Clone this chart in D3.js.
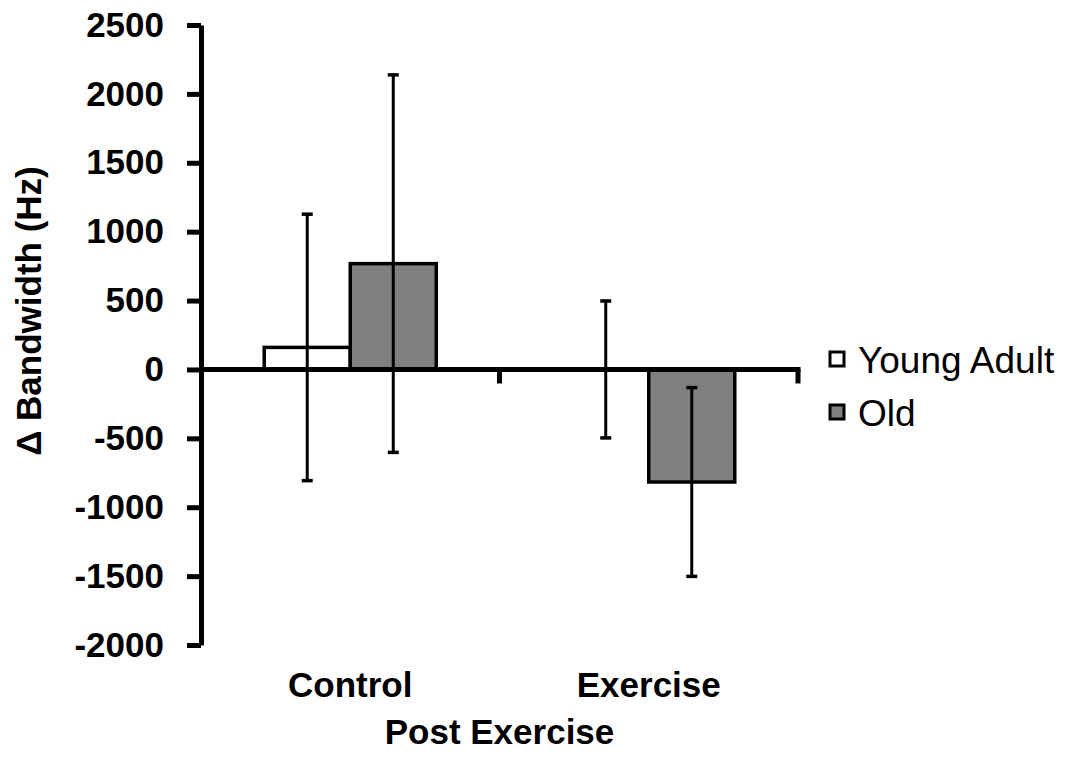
<!DOCTYPE html>
<html>
<head>
<meta charset="utf-8">
<script src="https://cdn.jsdelivr.net/npm/d3@7/dist/d3.min.js"></script>
<style>
  body { margin: 0; background: #fff; }
  svg { display: block; font-family: "Liberation Sans", Arial, sans-serif; }
</style>
</head>
<body>
<svg id="chart" width="1072" height="759"></svg>
<script>
// Data
const CATEGORIES = ['Control', 'Exercise'];
const SERIES = ['Young Adult', 'Old'];
const MEANS = {
  'Young Adult': [160, 0],
  'Old': [768, -817],
};
const ERRORS = {
  'Young Adult': [967, 497],
  'Old': [1370, 685],
};
const Y_TICKS = [-2000, -1500, -1000, -500, 0, 500, 1000, 1500, 2000, 2500];
const FILLS = ['#ffffff', '#808080'];

// Layout
const LEFT = 201;
const RIGHT = 798;
const TOP = 25;
const BOTTOM = 645;

const rows = [];
CATEGORIES.forEach((cat, i) => {
  SERIES.forEach((s) => {
    rows.push({ cat, series: s, value: MEANS[s][i], err: ERRORS[s][i] });
  });
});

const svg = d3.select('#chart');

// Scales
const y = d3.scaleLinear([-2000, 2500], [BOTTOM, TOP]);
const x = d3.scaleBand(CATEGORIES, [LEFT, RIGHT]).padding(0);
const xs = d3.scaleBand(SERIES, [0, x.bandwidth()])
  .paddingInner(0)
  .paddingOuter(0.735);
const color = d3.scaleOrdinal(SERIES, FILLS);

// Bars
svg.append('g')
  .selectAll('rect')
  .data(rows)
  .join('rect')
  .attr('x', (d) => x(d.cat) + xs(d.series))
  .attr('y', (d) => Math.min(y(d.value), y(0)))
  .attr('width', xs.bandwidth())
  .attr('height', (d) => Math.abs(y(d.value) - y(0)))
  .attr('fill', (d) => color(d.series))
  .attr('stroke', '#000')
  .attr('stroke-width', 3.5);

// Error bars
const eb = svg.append('g')
  .selectAll('g')
  .data(rows)
  .join('g')
  .attr('transform', (d) => `translate(${x(d.cat) + xs(d.series) + xs.bandwidth() / 2},0)`);

eb.append('line')
  .attr('y1', (d) => y(d.value + d.err))
  .attr('y2', (d) => y(d.value - d.err))
  .attr('stroke', '#000')
  .attr('stroke-width', 3);

eb.selectAll('line.cap')
  .data((d) => [d.value + d.err, d.value - d.err])
  .join('line')
  .attr('class', 'cap')
  .attr('x1', -5.5)
  .attr('x2', 5.5)
  .attr('y1', (v) => y(v))
  .attr('y2', (v) => y(v))
  .attr('stroke', '#000')
  .attr('stroke-width', 3.5);

// X axis at zero with boundary ticks
const xAxis = svg.append('g').attr('transform', `translate(0,${y(0)})`);
xAxis.append('line')
  .attr('x1', LEFT)
  .attr('x2', RIGHT + 2.5)
  .attr('stroke', '#000')
  .attr('stroke-width', 5);
xAxis.selectAll('line.tick')
  .data(CATEGORIES)
  .join('line')
  .attr('class', 'tick')
  .attr('x1', (d) => x(d) + x.bandwidth())
  .attr('x2', (d) => x(d) + x.bandwidth())
  .attr('y1', 0)
  .attr('y2', 14)
  .attr('stroke', '#000')
  .attr('stroke-width', 5);

// Y axis
const yAxis = d3.axisLeft(y)
  .tickValues(Y_TICKS)
  .tickFormat((d) => String(d))
  .tickSize(14)
  .tickSizeOuter(0)
  .tickPadding(23);

svg.append('g')
  .attr('transform', `translate(${LEFT},0)`)
  .call(yAxis)
  .call((g) => g.select('.domain').attr('stroke-width', 5))
  .call((g) => g.selectAll('.tick line').attr('stroke-width', 5))
  .call((g) => g.selectAll('.tick text')
    .attr('font-size', 35)
    .attr('font-weight', 'bold')
    .attr('font-family', '"Liberation Sans", Arial, sans-serif')
    .attr('fill', '#000'));

// Category labels
svg.append('g')
  .selectAll('text')
  .data(CATEGORIES)
  .join('text')
  .attr('x', (d) => x(d) + x.bandwidth() / 2)
  .attr('y', 697)
  .attr('text-anchor', 'middle')
  .attr('font-size', 35)
  .attr('font-weight', 'bold')
  .text((d) => d);

// Axis titles
svg.append('text')
  .attr('x', (LEFT + RIGHT) / 2)
  .attr('y', 744)
  .attr('text-anchor', 'middle')
  .attr('font-size', 35)
  .attr('font-weight', 'bold')
  .text('Post Exercise');

svg.append('text')
  .attr('transform', `translate(41,${311}) rotate(-90)`)
  .attr('text-anchor', 'middle')
  .attr('font-size', 35)
  .attr('font-weight', 'bold')
  .text('Δ Bandwidth (Hz)');

// Legend
const legend = svg.append('g')
  .selectAll('g')
  .data(SERIES)
  .join('g')
  .attr('transform', (d, i) => `translate(830,${352 + i * 53})`);

legend.append('rect')
  .attr('width', 14)
  .attr('height', 14)
  .attr('fill', (d) => color(d))
  .attr('stroke', '#000')
  .attr('stroke-width', 3);

legend.append('text')
  .attr('x', 28)
  .attr('y', 21)
  .attr('font-size', 37)
  .text((d) => d);
</script>
</body>
</html>
